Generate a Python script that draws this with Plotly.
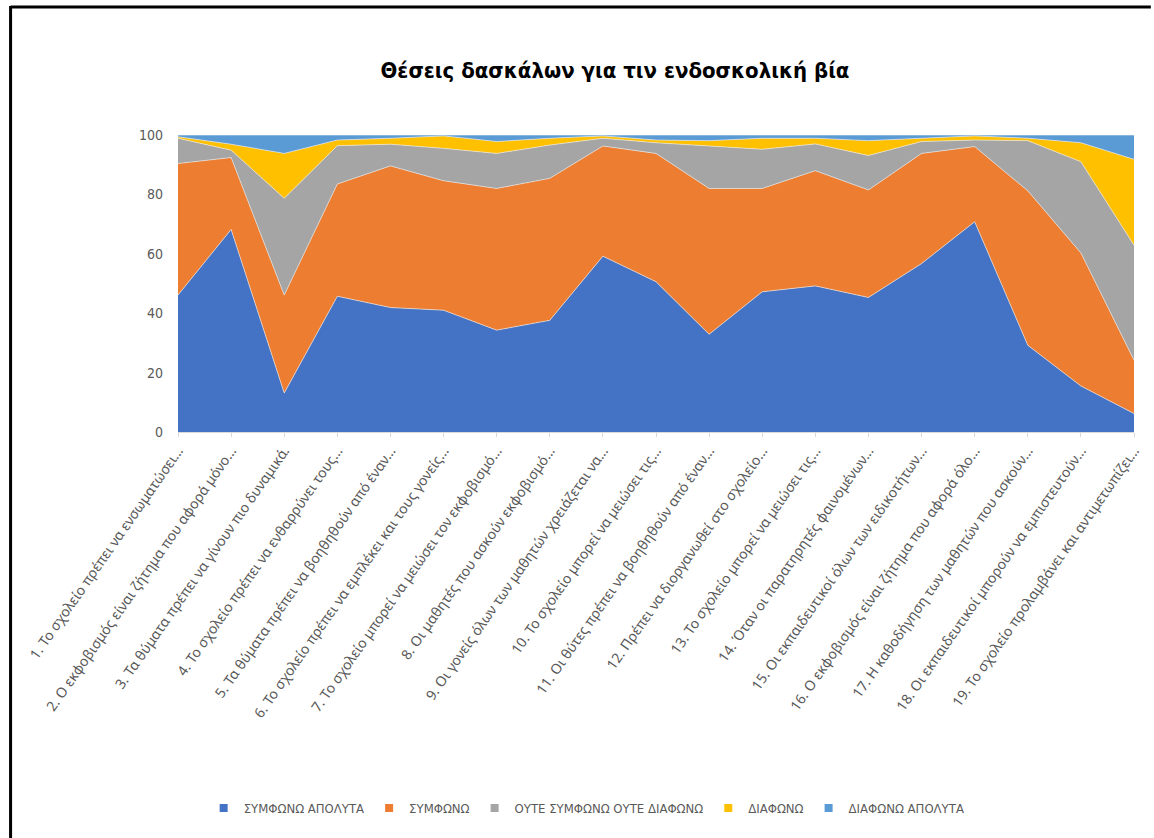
import plotly.graph_objects as go

# Statements (x-axis categories)
statements = [
    "1. Το σχολείο πρέπει να ενσωματώσει...",
    "2. Ο εκφοβισμός είναι ζήτημα που αφορά μόνο...",
    "3. Τα θύματα πρέπει να γίνουν πιο δυναμικά.",
    "4. Το σχολείο πρέπει να ενθαρρύνει τους...",
    "5. Τα θύματα πρέπει να βοηθηθούν από έναν...",
    "6. Το σχολείο πρέπει να εμπλέκει και τους γονείς...",
    "7. Το σχολείο μπορεί να μειώσει τον εκφοβισμό...",
    "8. Οι μαθητές που ασκούν εκφοβισμό...",
    "9. Οι γονείς όλων των μαθητών χρειάζεται να...",
    "10. Το σχολείο μπορεί να μειώσει τις...",
    "11. Οι θύτες πρέπει να βοηθηθούν από έναν...",
    "12. Πρέπει να διοργανωθεί στο σχολείο...",
    "13. Το σχολείο μπορεί να μειώσει τις...",
    "14. Όταν οι παρατηρητές φαινομένων...",
    "15. Οι εκπαιδευτικοί όλων των ειδικοτήτων...",
    "16. Ο εκφοβισμός είναι ζήτημα που αφορά όλο...",
    "17. Η καθοδήγηση των μαθητών που ασκούν...",
    "18. Οι εκπαιδευτικοί μπορούν να εμπιστευτούν...",
    "19. Το σχολείο προλαμβάνει και αντιμετωπίζει...",
]

# Percentages of teachers per answer
agree_fully = [46.1, 68.2, 13.1, 45.7, 41.9, 41.0, 34.3, 37.6, 59.2, 50.6,
               32.9, 47.2, 49.2, 45.3, 56.7, 70.8, 29.2, 15.5, 6.2]
agree = [44.3, 24.2, 33.0, 37.8, 47.7, 43.6, 47.7, 47.8, 37.1, 43.2,
         49.1, 34.8, 38.8, 36.2, 37.1, 25.3, 52.0, 44.8, 18.0]
neutral = [8.5, 2.5, 32.6, 12.9, 7.3, 10.9, 11.8, 11.2, 2.6, 3.6,
           14.3, 13.2, 9.0, 11.6, 4.0, 2.2, 16.9, 30.7, 38.7]
disagree = [0.5, 2.0, 15.1, 1.9, 2.0, 4.2, 4.0, 2.3, 0.8, 0.9,
            1.8, 3.7, 1.9, 5.0, 1.1, 1.4, 0.8, 6.4, 28.9]
disagree_fully = [0.6, 3.1, 6.2, 1.7, 1.1, 0.3, 2.2, 1.1, 0.3, 1.7,
                  1.9, 1.1, 1.1, 1.9, 1.1, 0.3, 1.1, 2.6, 8.2]

series_names = ["ΣΥΜΦΩΝΩ ΑΠΟΛΥΤΑ", "ΣΥΜΦΩΝΩ", "ΟΥΤΕ ΣΥΜΦΩΝΩ ΟΥΤΕ ΔΙΑΦΩΝΩ",
                "ΔΙΑΦΩΝΩ", "ΔΙΑΦΩΝΩ ΑΠΟΛΥΤΑ"]
y_ticks = [0, 20, 40, 60, 80, 100]

colors = ["#4472C4", "#ED7D31", "#A5A5A5", "#FFC000", "#5B9BD5"]
series_values = [agree_fully, agree, neutral, disagree, disagree_fully]

narrow = "Liberation Sans Narrow, DejaVu Sans Condensed, Arial Narrow, sans-serif"
label_font = "Noto Sans, Open Sans, sans-serif"
gray_text = "#595959"

fig = go.Figure()

for name, vals, col in zip(series_names, series_values, colors):
    fig.add_trace(go.Scatter(
        x=statements, y=vals, name=name, mode="lines",
        stackgroup="answers",
        line=dict(width=0.8, color="rgba(235,235,235,0.8)"),
        fillcolor=col, showlegend=False, hoverinfo="x+y+name",
    ))

# Small square legend keys
for name, col in zip(series_names, colors):
    fig.add_trace(go.Scatter(
        x=[None], y=[None], name=name, mode="markers",
        marker=dict(symbol="square", size=8, color=col),
        showlegend=True,
    ))

# Frame around the chart (top and left edges)
fig.add_shape(type="line", xref="paper", yref="paper",
              x0=(9 - 178) / 965, x1=(1160 - 178) / 965,
              y0=(432 - 7) / 297, y1=(432 - 7) / 297,
              line=dict(color="black", width=3))
fig.add_shape(type="line", xref="paper", yref="paper",
              x0=(9 - 178) / 965, x1=(9 - 178) / 965,
              y0=(432 - 6) / 297, y1=(432 - 845) / 297,
              line=dict(color="black", width=3))

fig.update_layout(
    width=1154, height=838,
    margin=dict(l=178, r=11, t=135, b=406),
    paper_bgcolor="white", plot_bgcolor="white",
    title=dict(
        text="<b>Θέσεις δασκάλων για τιν ενδοσκολική βία</b>",
        x=615 / 1154, xanchor="center", xref="container",
        y=1 - 70 / 838, yanchor="middle", yref="container",
        font=dict(family=narrow, size=22, color="#000000"),
    ),
    xaxis=dict(
        type="category", range=[0, len(statements) - 1],
        tickangle=-55, showgrid=False,
        showline=True, linecolor="#D9D9D9", linewidth=1,
        ticks="outside", ticklen=4, tickcolor="#D9D9D9",
        tickfont=dict(family=label_font, size=14, color=gray_text),
    ),
    yaxis=dict(
        range=[0, 100], tickvals=y_ticks, showgrid=False,
        zeroline=False, showline=False,
        tickfont=dict(family=narrow, size=14, color=gray_text),
        ticklabelstandoff=14,
    ),
    legend=dict(
        orientation="h", x=0.5 - (660 - 590) / 965, xanchor="center",
        y=(432 - 808) / 297, yanchor="middle",
        font=dict(family=narrow, size=13, color=gray_text),
        itemwidth=30, bgcolor="rgba(0,0,0,0)", traceorder="normal",
    ),
    showlegend=True,
)

fig.write_html("out.html")
